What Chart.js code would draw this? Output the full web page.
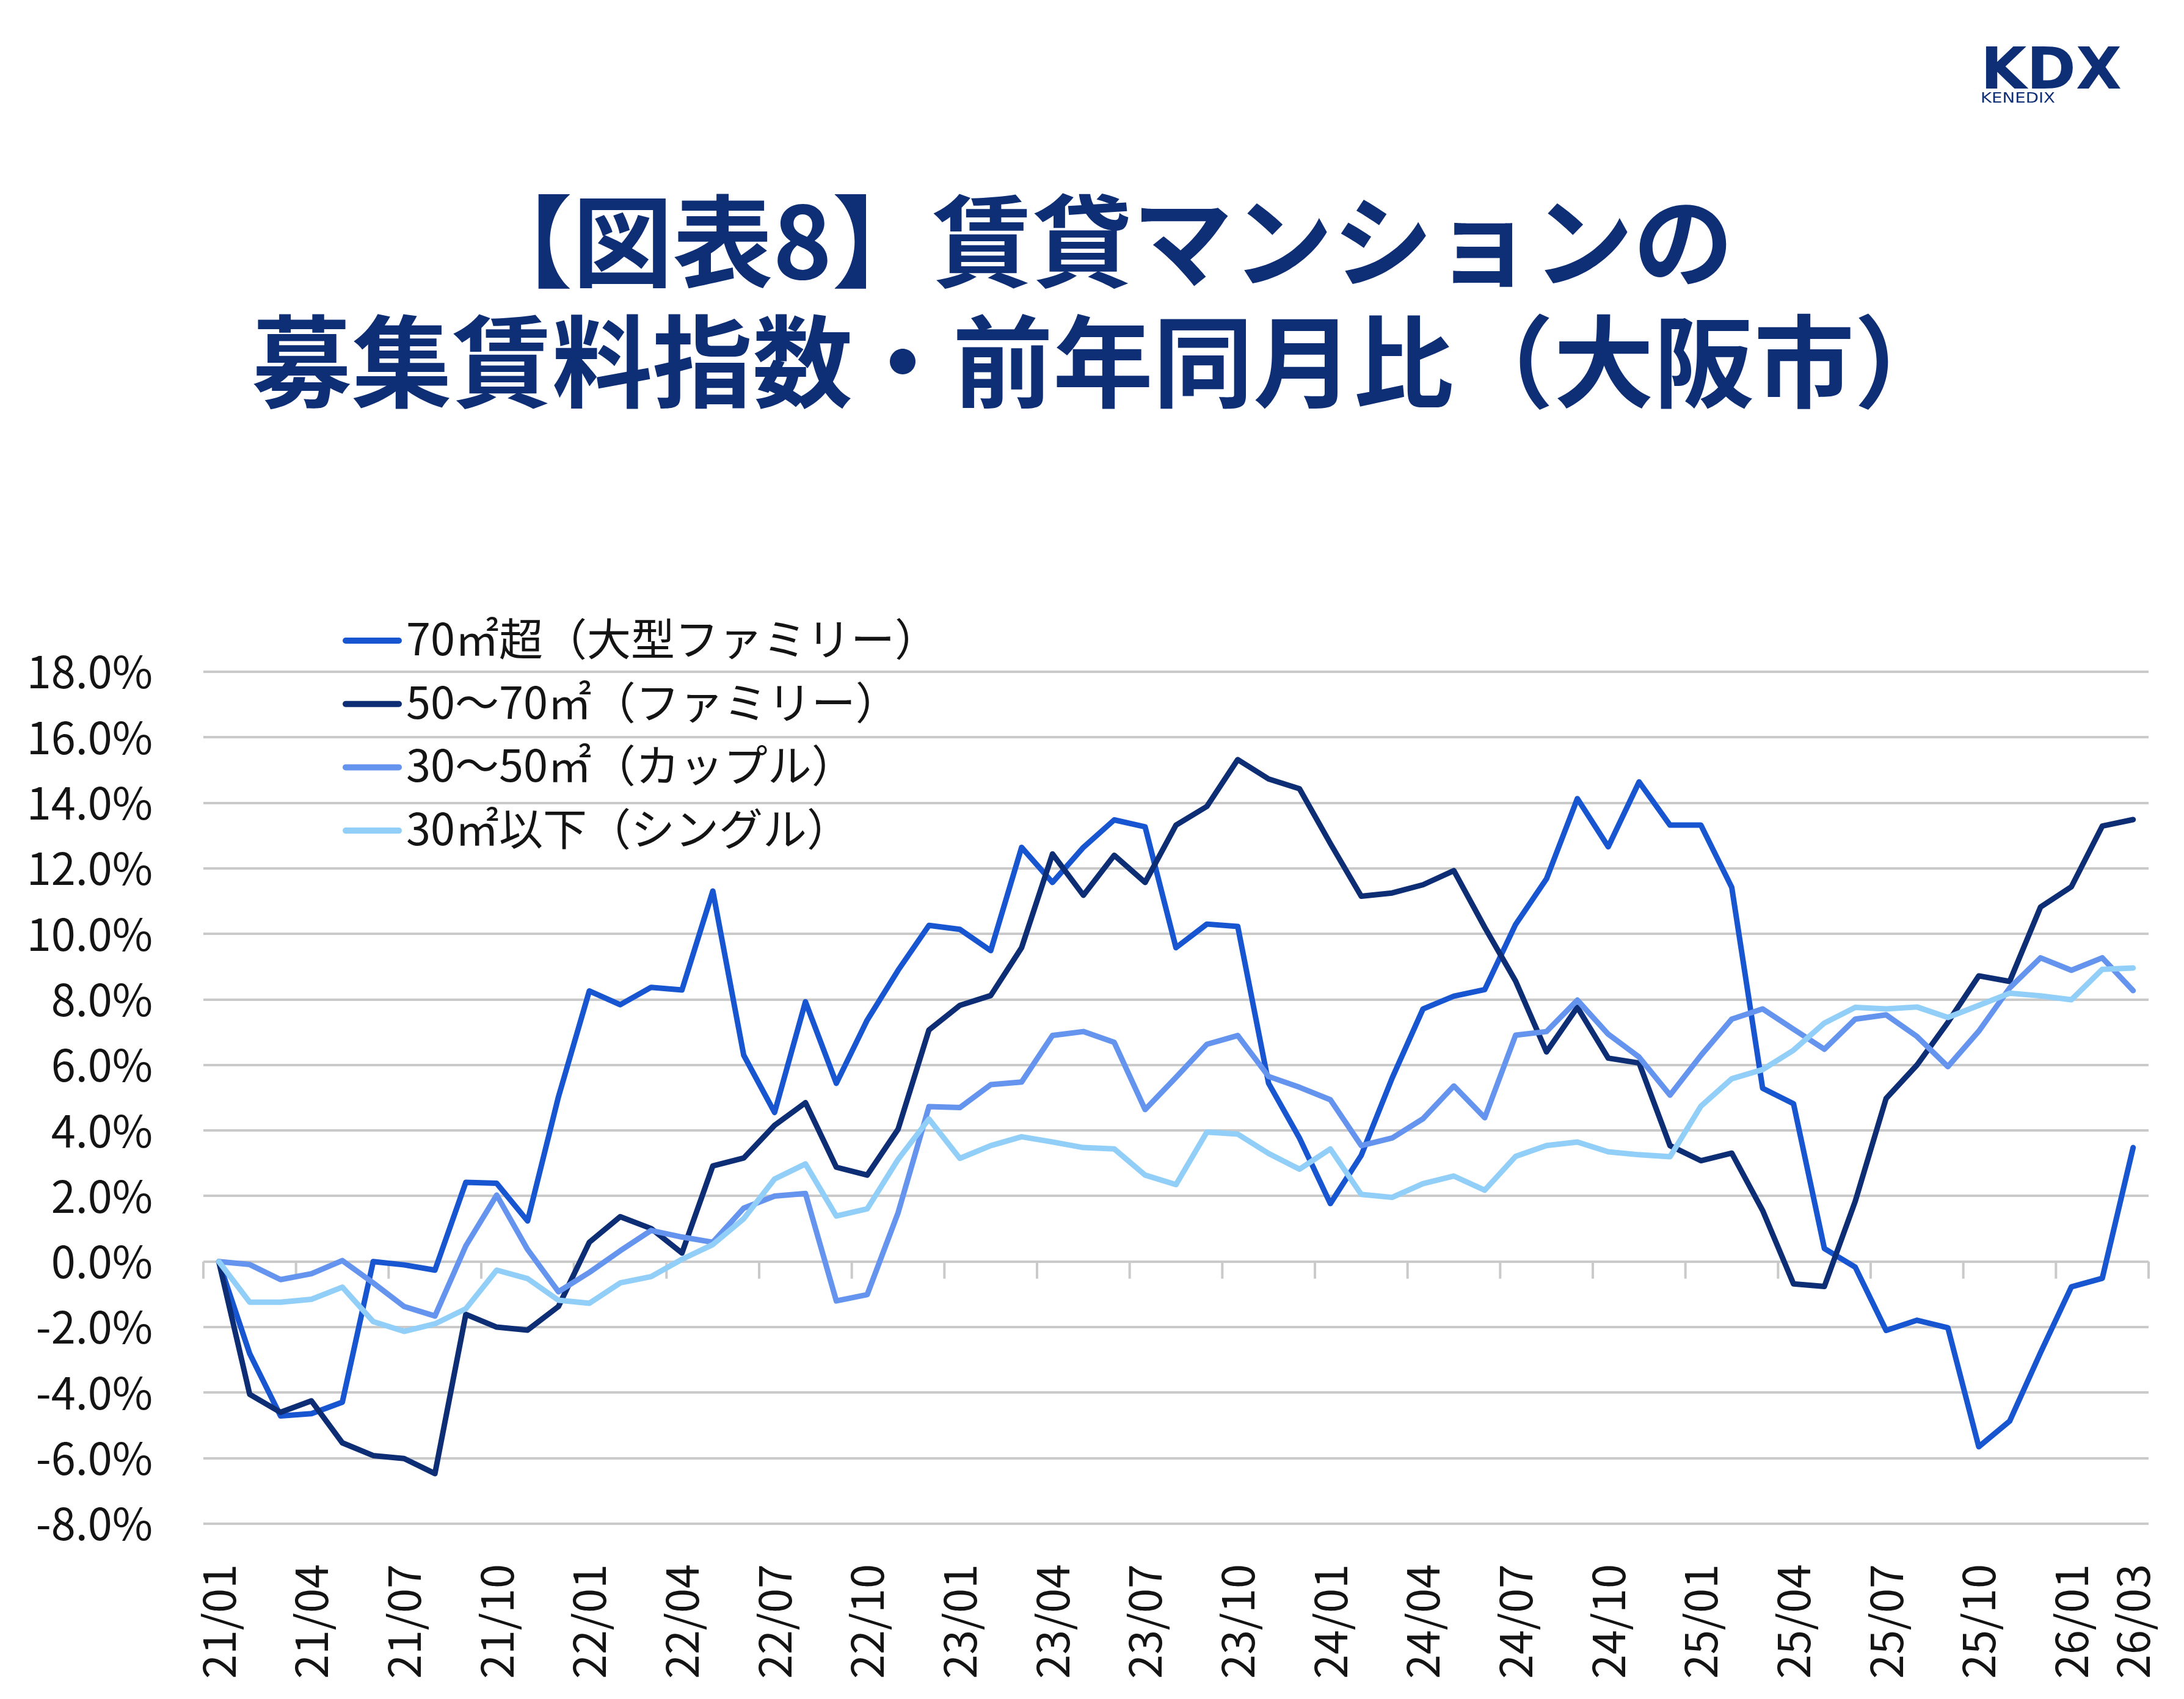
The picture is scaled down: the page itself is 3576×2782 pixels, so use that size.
<!DOCTYPE html>
<html lang="ja">
<head>
<meta charset="utf-8">
<title>募集賃料指数・前年同月比（大阪市）</title>
<script src="https://cdn.jsdelivr.net/npm/chart.js@4.4.1/dist/chart.umd.min.js"></script>
<style>
  html, body { margin: 0; padding: 0; background: #fff; }
  #page { position: relative; width: 3576px; height: 2782px; overflow: hidden; }
  #chartBox { position: absolute; left: 0; top: 0; width: 3576px; height: 2782px; }
  #overlay { position: absolute; left: 0; top: 0; pointer-events: none; }
</style>
</head>
<body>
<div id="page">
  <div id="chartBox"><canvas id="rentChart"></canvas></div>
  <svg id="overlay" width="3576" height="2782" xmlns="http://www.w3.org/2000/svg">
    <g font-family="DejaVu Sans, sans-serif" fill="#0e2f75">
      <text x="3243" y="145" font-size="94" font-weight="bold" textLength="231" lengthAdjust="spacingAndGlyphs">KDX</text>
      <text x="3243" y="168" font-size="23" textLength="122" lengthAdjust="spacingAndGlyphs">KENEDIX</text>
    </g>
    <g font-family="Noto Sans CJK JP, sans-serif" font-weight="bold" font-size="164" fill="#0e2f75" text-anchor="middle">
      <text x="1806" y="457">【図表8】賃貸マンションの</text>
      <text x="1806" y="654">募集賃料指数・前年同月比（大阪市）</text>
    </g>
    <g id="legend"></g>
  </svg>
</div>
<script>
// Month labels 21/01 .. 26/03
const months = [
  '21/01','21/02','21/03','21/04','21/05','21/06','21/07','21/08','21/09','21/10','21/11','21/12',
  '22/01','22/02','22/03','22/04','22/05','22/06','22/07','22/08','22/09','22/10','22/11','22/12',
  '23/01','23/02','23/03','23/04','23/05','23/06','23/07','23/08','23/09','23/10','23/11','23/12',
  '24/01','24/02','24/03','24/04','24/05','24/06','24/07','24/08','24/09','24/10','24/11','24/12',
  '25/01','25/02','25/03','25/04','25/05','25/06','25/07','25/08','25/09','25/10','25/11','25/12',
  '26/01','26/02','26/03'
];

// Year-on-year change (%)
const large = [
  0, -2.81, -4.71, -4.64, -4.29, 0.0, -0.10, -0.26, 2.42, 2.39, 1.24, 5.03,
  8.26, 7.84, 8.37, 8.29, 11.31, 6.30, 4.55, 7.93, 5.44, 7.37, 8.89, 10.26,
  10.14, 9.49, 12.64, 11.57, 12.64, 13.48, 13.27, 9.58, 10.30, 10.23, 5.44, 3.77,
  1.77, 3.24, 5.60, 7.71, 8.10, 8.30, 10.29, 11.68, 14.13, 12.66, 14.64, 13.32,
  13.32, 11.42, 5.29, 4.82, 0.40, -0.17, -2.10, -1.79, -2.02, -5.65, -4.87, -2.78,
  -0.77, -0.51, 3.48
];
const family = [
  0, -4.05, -4.60, -4.25, -5.53, -5.92, -6.01, -6.47, -1.61, -2.00, -2.09, -1.37,
  0.59, 1.37, 1.01, 0.26, 2.92, 3.16, 4.16, 4.85, 2.88, 2.64, 4.04, 7.07,
  7.82, 8.12, 9.58, 12.44, 11.18, 12.40, 11.57, 13.32, 13.89, 15.32, 14.73, 14.43,
  12.76, 11.15, 11.25, 11.50, 11.93, 10.20, 8.56, 6.40, 7.76, 6.21, 6.06, 3.54,
  3.08, 3.31, 1.56, -0.68, -0.76, 1.84, 4.98, 6.00, 7.30, 8.72, 8.55, 10.82,
  11.44, 13.29, 13.49
];
const couple = [
  0, -0.09, -0.55, -0.37, 0.03, -0.65, -1.37, -1.66, 0.48, 2.03, 0.37, -0.92,
  -0.33, 0.33, 0.95, 0.75, 0.59, 1.63, 2.00, 2.08, -1.20, -1.01, 1.49, 4.73,
  4.70, 5.40, 5.48, 6.90, 7.02, 6.69, 4.64, 5.62, 6.63, 6.90, 5.65, 5.32,
  4.94, 3.54, 3.77, 4.36, 5.36, 4.39, 6.91, 7.02, 7.98, 6.94, 6.24, 5.08,
  6.29, 7.40, 7.71, 7.09, 6.48, 7.40, 7.53, 6.87, 5.95, 7.03, 8.35, 9.27,
  8.89, 9.27, 8.27
];
const single = [
  0, -1.24, -1.24, -1.15, -0.78, -1.83, -2.13, -1.90, -1.44, -0.26, -0.52, -1.18,
  -1.27, -0.65, -0.46, 0.07, 0.52, 1.31, 2.52, 2.98, 1.39, 1.61, 3.12, 4.35,
  3.15, 3.54, 3.81, 3.65, 3.48, 3.44, 2.64, 2.35, 3.95, 3.89, 3.30, 2.82,
  3.44, 2.05, 1.96, 2.38, 2.61, 2.18, 3.21, 3.54, 3.65, 3.35, 3.26, 3.20,
  4.74, 5.58, 5.86, 6.45, 7.28, 7.76, 7.71, 7.77, 7.45, 7.82, 8.19, 8.11,
  7.99, 8.92, 8.96
];

const seriesNames = ['70㎡超（大型ファミリー）', '50～70㎡（ファミリー）', '30～50㎡（カップル）', '30㎡以下（シングル）'];
const seriesColors = ['#1856d1', '#0d2e74', '#6594ee', '#91cef8'];
const gridColor = '#cacaca';
const textColor = '#141414';
const fontFamily = '"Noto Sans CJK JP", "Noto Sans", sans-serif';

// small tick marks hanging from the 0% line, every 3 months on category boundaries
const zeroTicks = {
    id: 'zeroTicks',
    beforeDatasetsDraw(chart) {
        const x = chart.scales.x;
        const y0 = chart.scales.y.getPixelForValue(0);
        const half = (x.getPixelForValue(1) - x.getPixelForValue(0)) / 2;
        const c = chart.ctx;
        c.save();
        c.strokeStyle = gridColor;
        c.lineWidth = 4;
        c.beginPath();
        for (let k = 0; k <= months.length; k += 3) {
            const px = x.getPixelForValue(k) - half;
            c.moveTo(px, y0);
            c.lineTo(px, y0 + 28);
        }
        c.stroke();
        c.restore();
    }
};

function makeSet(i, data) {
    return {
        label: seriesNames[i],
        data: data,
        borderColor: seriesColors[i],
        backgroundColor: seriesColors[i],
        borderWidth: 9,
        borderJoinStyle: 'round',
        borderCapStyle: 'round',
        pointRadius: 0,
        tension: 0,
        fill: false,
        order: 4 - i
    };
}

const ctx = document.getElementById('rentChart').getContext('2d');
const rentChart = new Chart(ctx, {
    type: 'line',
    data: {
        labels: months,
        datasets: [makeSet(0, large), makeSet(1, family), makeSet(2, couple), makeSet(3, single)]
    },
    options: {
        responsive: true,
        maintainAspectRatio: false,
        devicePixelRatio: 1,
        animation: false,
        layout: { padding: { top: 1100, right: 58, bottom: 0, left: 0 } },
        plugins: {
            legend: { display: false },
            tooltip: { enabled: false }
        },
        scales: {
            x: {
                offset: true,
                grid: { display: false },
                border: { display: false },
                ticks: {
                    autoSkip: false,
                    minRotation: 90,
                    maxRotation: 90,
                    padding: 58,
                    color: textColor,
                    font: { family: fontFamily, size: 72 },
                    callback: function(value, index) {
                        return (index % 3 === 0 || index === months.length - 1) ? months[index] : '';
                    }
                },
                afterFit: function(scale) {
                    scale.height = 287;
                    // rotated end labels should not shrink the plot area
                    scale.paddingLeft = 0;
                    scale.paddingRight = 0;
                }
            },
            y: {
                min: -8,
                max: 18,
                grid: { color: gridColor, lineWidth: 4, drawTicks: false },
                border: { display: false },
                ticks: {
                    stepSize: 2,
                    padding: 83,
                    color: textColor,
                    font: { family: fontFamily, size: 72 },
                    callback: function(value) {
                        return value.toFixed(1) + '%';
                    }
                },
                afterFit: function(scale) { scale.width = 333; }
            }
        }
    },
    plugins: [zeroTicks]
});

// Legend stacked in the upper left, built from the datasets
const svgNS = 'http://www.w3.org/2000/svg';
const legendGroup = document.getElementById('legend');
rentChart.data.datasets.forEach(function(ds, i) {
    const cy = 1049 + i * 103.7;
    const line = document.createElementNS(svgNS, 'line');
    line.setAttribute('x1', 566);
    line.setAttribute('x2', 653);
    line.setAttribute('y1', cy);
    line.setAttribute('y2', cy);
    line.setAttribute('stroke', ds.borderColor);
    line.setAttribute('stroke-width', 10);
    line.setAttribute('stroke-linecap', 'round');
    legendGroup.appendChild(line);

    const txt = document.createElementNS(svgNS, 'text');
    txt.setAttribute('x', 665);
    txt.setAttribute('y', cy + 24);
    txt.setAttribute('font-family', 'Noto Sans CJK JP, sans-serif');
    txt.setAttribute('font-size', 72);
    txt.setAttribute('fill', textColor);
    txt.textContent = ds.label;
    legendGroup.appendChild(txt);
});
</script>
</body>
</html>
